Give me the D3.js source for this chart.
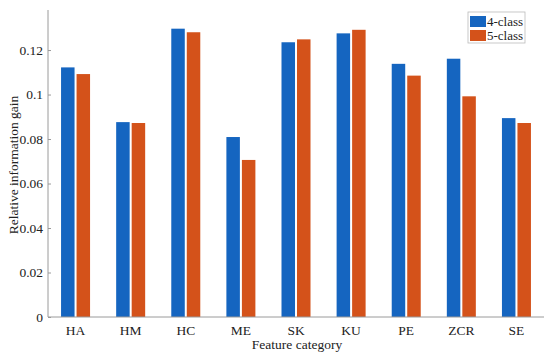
<!DOCTYPE html>
<html><head><meta charset="utf-8">
<script src="https://cdn.jsdelivr.net/npm/d3@7"></script>
<style>body{margin:0;background:#fff}svg{display:block}</style>
</head><body><svg id="c" width="550" height="356"></svg>
<script>
const categories = ["HA","HM","HC","ME","SK","KU","PE","ZCR","SE"];
const seriesNames = ["4-class","5-class"];
const class4 = [0.1122,0.0876,0.1296,0.0809,0.1235,0.1275,0.1138,0.1161,0.0894];
const class5 = [0.1092,0.0872,0.1280,0.0706,0.1248,0.1291,0.1085,0.0992,0.0872];
const yTicks = [0,0.02,0.04,0.06,0.08,0.1,0.12];
const colors = ["#1565C0","#D4521A"];
const FONT = "'Liberation Serif','Times New Roman',serif";

const svg = d3.select("#c");
const L = 48, R = 544, T = 10, B = 317;
const x = d3.scaleBand().domain(categories).range([L, R]).paddingInner(0).paddingOuter(0);
const y = d3.scaleLinear().domain([0, 0.138]).range([B, T]);
const xs = d3.scaleBand().domain(seriesNames).range([-14.5, 14.5]).paddingInner(0.13);

const data = [class4, class5];
seriesNames.forEach((s, si) => {
  svg.append("g").selectAll("rect").data(categories).join("rect")
    .attr("x", d => x(d) + x.bandwidth()/2 + xs(s))
    .attr("width", xs.bandwidth())
    .attr("y", (d,i) => y(data[si][i]))
    .attr("height", (d,i) => B - y(data[si][i]))
    .attr("fill", colors[si]);
});

const axisColor = "#9a9a9a";
const ya = svg.append("g").attr("transform", `translate(${L},0)`)
  .call(d3.axisLeft(y).tickValues(yTicks).tickSize(-3).tickPadding(5).tickFormat(d => d === 0 ? "0" : String(+d.toFixed(2))));
ya.select(".domain").attr("stroke", axisColor).attr("d", `M0,${T}V${B}`);
ya.selectAll(".tick line").attr("stroke", axisColor);
ya.selectAll("text").style("font-size", "13.5px").style("font-family", FONT).attr("fill", "#222");

const xa = svg.append("g").attr("transform", `translate(0,${B})`)
  .call(d3.axisBottom(x).tickSize(0).tickPadding(8));
xa.select(".domain").attr("stroke", axisColor).attr("d", `M${L},0H${R}`);
xa.selectAll("text").style("font-size", "13.5px").style("font-family", FONT).attr("fill", "#222");

svg.append("text").attr("x", 297).attr("y", 349).attr("text-anchor", "middle")
  .style("font-size", "13.5px").style("font-family", FONT).attr("fill", "#222").text("Feature category");
svg.append("text").attr("transform", "translate(18,165) rotate(-90)").attr("text-anchor", "middle")
  .style("font-size", "13.5px").style("font-family", FONT).attr("fill", "#222").text("Relative information gain");

// legend
const lg = svg.append("g");
lg.append("rect").attr("x", 468).attr("y", 12).attr("width", 57).attr("height", 31)
  .attr("fill", "#fff").attr("stroke", "#bbb").attr("stroke-width", 0.8);
seriesNames.forEach((s, i) => {
  lg.append("rect").attr("x", 470).attr("y", 16 + i*14).attr("width", 16).attr("height", 11).attr("fill", colors[i]);
  lg.append("text").attr("x", 487).attr("y", 26 + i*14).style("font-size", "13px").style("font-family", FONT).attr("fill", "#222").text(s);
});
</script></body></html>
